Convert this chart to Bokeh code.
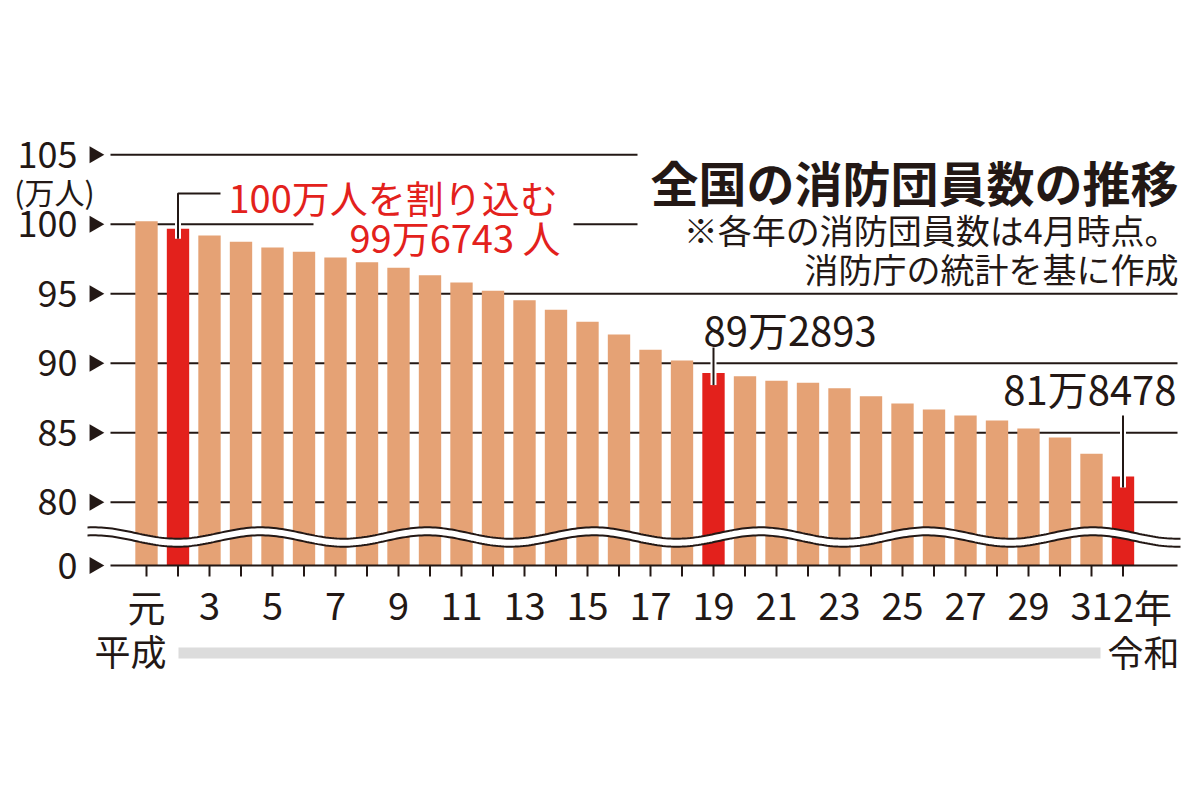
import numpy as np
from bokeh.plotting import figure
from bokeh.models import Range1d, ColumnDataSource
from bokeh.core.properties import value
from bokeh.embed import file_html
from bokeh.resources import INLINE

# ---------------- data ----------------
years = ["平成元"] + [f"平成{i}" for i in range(2, 32)] + ["令和2"]
members = [100.22, 99.6743, 99.19, 98.73, 98.32, 98.01, 97.60, 97.27, 96.86,
           96.33, 95.81, 95.21, 94.53, 93.84, 92.98, 92.06, 90.96, 90.19,
           89.2893, 89.06, 88.73, 88.59, 88.20, 87.63, 87.10, 86.67, 86.24,
           85.88, 85.30, 84.65, 83.48, 81.8478]
highlight = [1, 18, 31]
x_tick_labels = ["元", "", "3", "", "5", "", "7", "", "9", "", "11", "", "13", "",
                 "15", "", "17", "", "19", "", "21", "", "23", "", "25", "", "27",
                 "", "29", "", "31", "2年"]
y_tick_values = [105, 100, 95, 90, 85, 80]
y_tick_labels = ["105", "100", "95", "90", "85", "80"]
zero_label = "0"
unit_label = "(万人)"
title = "全国の消防団員数の推移"
note1 = "※各年の消防団員数は4月時点。"
note2 = "消防庁の統計を基に作成"
ann_red1 = "100万人を割り込む"
ann_red2 = "99万6743 人"
ann_19 = "89万2893"
ann_r2 = "81万8478"

# ---------------- layout helpers (reference pixel -> data) ----------------
X0, DX = 146.0, 31.5
Y80, PPU = 501.7, 13.9


def X(px):
    return (px - X0) / DX


def Y(py):
    return 80 - (py - Y80) / PPU


def dpx(n):
    return n / PPU


FONT = value("Noto Sans CJK JP")
BLACK = "#231815"
TAN = "#e5a275"
RED = "#e3211c"

p = figure(width=1184, height=784,
           x_range=Range1d(X(0), X(1184)), y_range=Range1d(Y(784), Y(0)),
           output_backend="svg", toolbar_location=None,
           x_axis_type=None, y_axis_type=None, min_border=0)
p.outline_line_color = None
p.background_fill_color = "white"
p.border_fill_color = "white"

zero_y = Y(565)
n = len(members)
idx = list(range(n))

# ---------------- gridlines ----------------
gx0, gx1, gy0, gy1 = [], [], [], []
for v in y_tick_values:
    if v == 105:
        segs = [(110, 637)]
    elif v == 100:
        segs = [(110, 313), (573, 637)]
    else:
        segs = [(110, 1177)]
    for a, b in segs:
        gx0.append(X(a)); gx1.append(X(b)); gy0.append(v); gy1.append(v)
p.segment(gx0, gy0, gx1, gy1, line_color=BLACK, line_width=2)

# ---------------- bars ----------------
colors = [RED if i in highlight else TAN for i in idx]
src = ColumnDataSource(dict(x=idx, top=members, color=colors, year=years))
p.vbar(x="x", top="top", bottom=zero_y, width=0.71, fill_color="color",
       line_color=None, source=src)

# ---------------- wavy break ----------------
wx = np.linspace(X(87), X(1180), 400)
period = 166.6 / DX
phase = X(260)
amp = dpx(5.7)
upper = Y(532.5) + amp * np.cos(2 * np.pi * (wx - phase) / period)
lower = upper - dpx(8)
p.varea(x=wx, y1=lower, y2=upper, fill_color="white")
p.line(wx, upper, line_color=BLACK, line_width=2)
p.line(wx, lower, line_color=BLACK, line_width=2)

# ---------------- axis line and ticks ----------------
p.segment([X(110)], [zero_y], [X(1177)], [zero_y], line_color=BLACK, line_width=2)
p.segment(idx, [zero_y] * n, idx, [zero_y - dpx(11)] * n, line_color=BLACK, line_width=2)

# ---------------- y tick labels with arrows ----------------
ypos = y_tick_values + [zero_y]
ylab = y_tick_labels + [zero_label]
p.text([X(77)] * len(ypos), ypos, text=ylab, text_font=FONT, text_font_size="36px",
       text_align="right", text_baseline="middle", text_color=BLACK)
p.scatter([X(94)] * len(ypos), ypos, marker="triangle", size=17, angle=-np.pi / 2,
          fill_color=BLACK, line_color=None)
p.text([X(54)], [Y(190)], text=[unit_label], text_font=FONT, text_font_size="30px",
       text_align="center", text_baseline="middle", text_color=BLACK)

# ---------------- x tick labels ----------------
xl_x = [i for i in idx if x_tick_labels[i] and i != n - 1]
p.text(xl_x, [Y(605)] * len(xl_x), text=[x_tick_labels[i] for i in xl_x], text_font=FONT,
       text_font_size="38px", text_align="center", text_baseline="middle", text_color=BLACK)
p.text([n - 1], [Y(605)], text=[x_tick_labels[n - 1]], x_offset=-10, text_font=FONT,
       text_font_size="38px", text_align="left", text_baseline="middle", text_color=BLACK)
p.text([X(130)], [Y(649)], text=["平成"], text_font=FONT, text_font_size="36px",
       text_align="center", text_baseline="middle", text_color=BLACK)
p.text([X(1143)], [Y(650)], text=["令和"], text_font=FONT, text_font_size="36px",
       text_align="center", text_baseline="middle", text_color=BLACK)
p.quad(left=[X(178)], right=[X(1100)], bottom=[Y(658)], top=[Y(647)],
       fill_color="#dcdcdc", line_color=None)

# ---------------- title and notes ----------------
p.text([X(1178)], [Y(180)], text=[title], text_font=FONT, text_font_size="48px",
       text_font_style="bold", text_align="right", text_baseline="middle", text_color=BLACK)
p.text([X(1178)], [Y(229)], text=[note1], text_font=FONT, text_font_size="34px",
       text_align="right", text_baseline="middle", text_color=BLACK)
p.text([X(1178)], [Y(268)], text=[note2], text_font=FONT, text_font_size="34px",
       text_align="right", text_baseline="middle", text_color=BLACK)

# ---------------- annotations (leader lines with white casing) ----------------
i1, i2, i3 = highlight
leaders = [
    ([i1, i1, X(220)], [members[i1] - dpx(10), Y(193), Y(193)]),
    ([i2, i2], [members[i2] - dpx(12), Y(347)]),
    ([i3, i3], [members[i3] - dpx(11), Y(415)]),
]
for lx, ly in leaders:
    p.line(lx, ly, line_color="white", line_width=6)
for lx, ly in leaders:
    p.line(lx, ly, line_color=BLACK, line_width=2)

p.text([X(228)], [Y(196)], text=[ann_red1], text_font=FONT, text_font_size="38px",
       text_align="left", text_baseline="middle", text_color=RED)
p.text([X(560)], [Y(236)], text=[ann_red2], text_font=FONT, text_font_size="38px",
       text_align="right", text_baseline="middle", text_color=RED)
p.text([X(703)], [Y(328)], text=[ann_19], text_font=FONT, text_font_size="40px",
       text_align="left", text_baseline="middle", text_color=BLACK)
p.text([X(1176)], [Y(387)], text=[ann_r2], text_font=FONT, text_font_size="40px",
       text_align="right", text_baseline="middle", text_color=BLACK)

open("out.html", "w").write(file_html(p, INLINE))
